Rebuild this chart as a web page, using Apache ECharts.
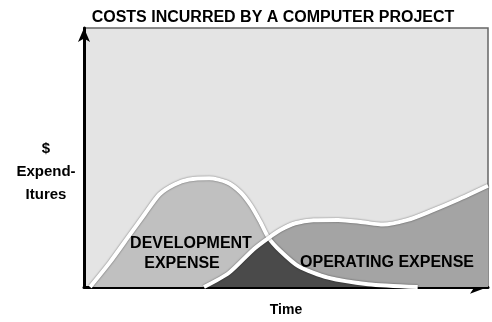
<!DOCTYPE html>
<html>
<head>
<meta charset="utf-8">
<script src="https://cdn.jsdelivr.net/npm/echarts@6/dist/echarts.min.js"></script>
<style>
  html, body { margin: 0; padding: 0; background: #fff; }
  #chart { width: 492px; height: 322px; }
</style>
</head>
<body>
<div id="chart"></div>
<script>
// values, x = time (0-100), y = $ (0-100)
const development = [
  [1.5, 0], [6.4, 9.5], [11.3, 20.1], [15.0, 28.1], [18.7, 35.8], [22.4, 39.6],
  [26.0, 41.5], [31.0, 42.0], [35.4, 40.4], [38.8, 36.5], [41.3, 31.5], [43.7, 25.0],
  [45.7, 19.0], [48.6, 13.9], [53.1, 8.0], [60.4, 3.6], [70.3, 1.1], [82.6, 0]
]
const operating = [
  [29.7, 0], [35.9, 5.5], [42.0, 14.6], [45.7, 19.0], [48.6, 22.0], [52.3, 24.6],
  [56.8, 25.8], [62.9, 25.9], [69.0, 25.0], [74.0, 24.1], [80.1, 25.9], [85.7, 29.2],
  [92.4, 33.6], [100, 39.1]
]
// dark part where both costs run at once
const overlap = [
  [29.7, 0], [35.9, 5.5], [42.0, 14.6], [45.7, 19.0], [48.6, 13.9], [53.1, 8.0],
  [60.4, 3.6], [70.3, 1.1], [82.6, 0]
]
const yLabel = ['$', 'Expend-', 'Itures']

const chart = echarts.init(document.getElementById('chart'), null, { renderer: 'canvas' })

const font = '"Liberation Sans", Arial, sans-serif'

const areaSeries = (name, data, color, z) => ({
  name,
  type: 'line',
  data,
  smooth: 0.25,
  symbol: 'none',
  z,
  lineStyle: { width: 0 },
  areaStyle: { color, opacity: 1 },
  silent: true
})

const lineSeries = (name, data) => ({
  name,
  type: 'line',
  data,
  smooth: 0.25,
  symbol: 'none',
  z: 5,
  lineStyle: {
    color: '#fff',
    width: 4,
    shadowColor: 'rgba(0,0,0,0.55)',
    shadowBlur: 2
  },
  silent: true
})

const option = {
  animation: false,
  grid: {
    left: 84,
    right: 4,
    top: 28,
    bottom: 20,
    show: true,
    backgroundColor: '#e4e4e4',
    borderColor: '#666',
    borderWidth: 1.5
  },
  xAxis: {
    type: 'value',
    min: 0,
    max: 100,
    axisLine: {
      show: true,
      lineStyle: { color: '#000', width: 3 },
      symbol: ['none', 'arrow'],
      symbolSize: [10, 18],
      symbolOffset: [0, 0]
    },
    axisTick: { show: false },
    axisLabel: { show: false },
    splitLine: { show: false },
    name: 'Time',
    nameLocation: 'middle',
    nameGap: 16,
    nameTextStyle: { fontFamily: font, fontWeight: 'bold', fontSize: 14, color: '#000' }
  },
  yAxis: {
    type: 'value',
    min: 0,
    max: 100,
    axisLine: {
      show: true,
      lineStyle: { color: '#000', width: 3 },
      symbol: ['none', 'arrow'],
      symbolSize: [9, 14],
      symbolOffset: [0, 0]
    },
    axisTick: { show: false },
    axisLabel: { show: false },
    splitLine: { show: false }
  },
  graphic: [
    {
      type: 'text', x: 273, y: 10,
      style: { text: 'COSTS INCURRED BY A COMPUTER PROJECT', font: 'bold 16px ' + font, fill: '#000', align: 'center' }
    },
    {
      type: 'text', x: 46, y: 137,
      style: {
        text: yLabel.join('\n'), font: 'bold 15px ' + font, fill: '#000',
        align: 'center', lineHeight: 23
      }
    },
    {
      type: 'text', x: 191, y: 236, z: 10,
      style: { text: 'DEVELOPMENT', font: 'bold 16px ' + font, fill: '#000', align: 'center' }
    },
    {
      type: 'text', x: 182, y: 256, z: 10,
      style: { text: 'EXPENSE', font: 'bold 16px ' + font, fill: '#000', align: 'center' }
    },
    {
      type: 'text', x: 387, y: 255, z: 10,
      style: { text: 'OPERATING EXPENSE', font: 'bold 16px ' + font, fill: '#000', align: 'center' }
    }
  ],
  series: [
    areaSeries('Operating', operating, '#a4a4a4', 2),
    areaSeries('Development', development, '#c0c0c0', 3),
    areaSeries('Both', overlap, '#4a4a4a', 4),
    lineSeries('Development line', development),
    lineSeries('Operating line', operating)
  ]
}

chart.setOption(option)
</script>
</body>
</html>
